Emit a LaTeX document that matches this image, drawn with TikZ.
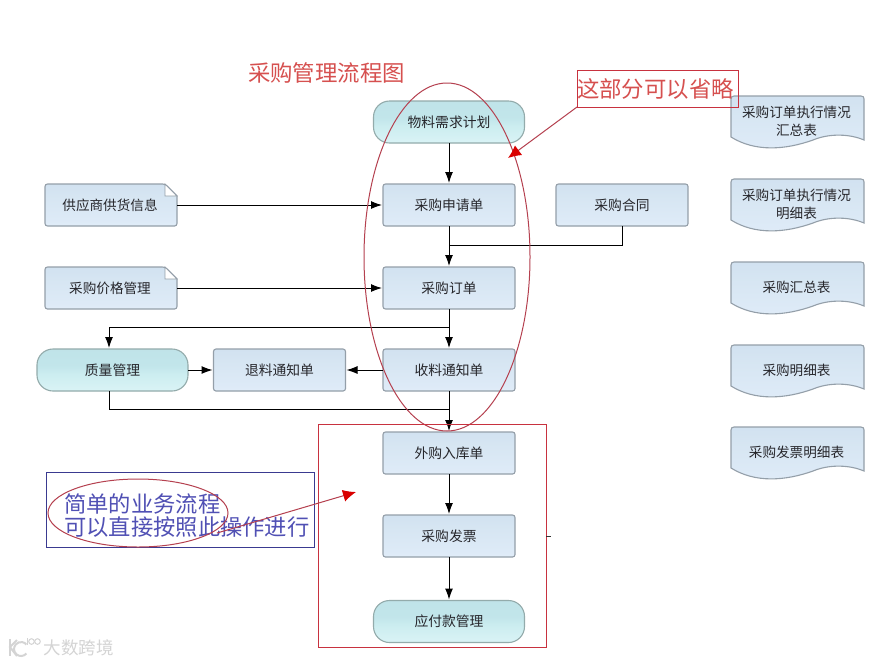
\documentclass[tikz,border=0pt]{standalone}
\usepackage{fontspec}
\setmainfont{Noto Sans CJK SC}
\usetikzlibrary{arrows.meta}
\definecolor{edgegray}{HTML}{949FA9}
\definecolor{tealedge}{HTML}{93ABAB}
\definecolor{inktext}{HTML}{26262B}
\definecolor{redline}{HTML}{C8323F}
\definecolor{redtext}{HTML}{D6504F}
\definecolor{bluetext}{HTML}{5050B4}
\definecolor{blueline}{HTML}{3A3A90}
\definecolor{ovalline}{HTML}{B5404F}
\definecolor{markgray}{HTML}{D4D4D4}
\pgfdeclareverticalshading{boxshade}{100bp}{
  rgb(0bp)=(0.82,0.88,0.94); rgb(8bp)=(0.86,0.92,0.96); rgb(14bp)=(0.93,0.96,0.99);
  rgb(30bp)=(0.87,0.92,0.97); rgb(60bp)=(0.84,0.90,0.95); rgb(100bp)=(0.79,0.86,0.93)}
\pgfdeclareverticalshading{tealshade}{100bp}{
  rgb(0bp)=(0.78,0.91,0.92); rgb(12bp)=(0.89,0.97,0.98);
  rgb(45bp)=(0.80,0.93,0.94); rgb(55bp)=(0.76,0.90,0.92); rgb(100bp)=(0.74,0.88,0.90)}
\tikzset{
  x=1pt,y=-1pt,
  plainbox/.style={rectangle,rounded corners=2.5pt,draw=edgegray,line width=1.1pt,shading=boxshade,
    minimum width=132pt,minimum height=42pt,inner sep=0pt,outer sep=0pt,
    text=inktext,font=\fontsize{13.8pt}{16pt}\selectfont},
  pillbox/.style={plainbox,draw=tealedge,shading=tealshade,rounded corners=16pt,minimum width=151pt},
  labelonly/.style={inner sep=0pt,outer sep=0pt,text=inktext,align=center,
    font=\fontsize{13.6pt}{18pt}\selectfont},
  flow/.style={draw=black,line width=1pt,-{Latex[length=11pt,width=8pt]},shorten >=1pt},
  flowplain/.style={draw=black,line width=1pt},
  redarrow/.style={draw=ovalline,line width=1pt,-{Latex[length=13pt,width=12pt,color=red!85!black]}},
  bigred/.style={inner sep=0pt,text=redtext,font=\fontsize{22.4pt}{26pt}\selectfont},
  bigblue/.style={inner sep=0pt,anchor=west,text=bluetext,font=\fontsize{22.3pt}{26pt}\selectfont},
  markline/.style={draw=markgray,line width=2pt},
}
% note shape with folded corner: #1 name, #2 centre x, #3 centre y, #4 text
\newcommand{\notebox}[4]{
  \begin{scope}[shift={(#2,#3)}]
    \path[draw=edgegray,line width=1.1pt,shading=boxshade,rounded corners=2.5pt]
      (-66,-21) -- (54,-21) [sharp corners] -- (66,-9) [rounded corners=2.5pt] -- (66,21) -- (-66,21) -- cycle;
    \path[fill=white,draw=edgegray,line width=0.8pt] (54,-21) -- (54,-9) -- (66,-9) -- cycle;
  \end{scope}
  \node[labelonly,minimum width=132pt,minimum height=42pt] (#1) at (#2,#3) {\kern-2pt\raisebox{1pt}{#4}};
}
% report shape with wavy bottom: #1 name, #2 top y, #3 text
\newcommand{\reportbox}[3]{
  \begin{scope}[yshift={-#2 pt}]
    \path[draw=edgegray,line width=1.1pt,shading=boxshade]
      (731,41) -- (731,3) .. controls (731,1) and (732,0) .. (734,0) -- (861,0)
      .. controls (863,0) and (864,1) .. (864,3) -- (864,44)
      .. controls (850,38) and (830,37) .. (813,44)
      .. controls (785,54) and (755,56) .. (731,41) -- cycle;
  \end{scope}
  \node[labelonly] (#1) at (796.5,#2+25) {#3};
}
\begin{document}
\begin{tikzpicture}
\useasboundingbox (0,0) rectangle (874,665);
\fill[white] (0,0) rectangle (874,665);

% title
\node[bigred] (title) at (326.5,72.5) {采购管理流程图};

% flow boxes
\node[pillbox] (wl) at (449,122) {物料需求计划};
\node[plainbox] (sq) at (449,205) {采购申请单};
\node[plainbox] (ht) at (622,205) {采购合同};
\node[plainbox] (dd) at (449,288) {采购订单};
\node[plainbox] (sl) at (449,370) {收料通知单};
\node[plainbox] (tl) at (279.5,370) {退料通知单};
\node[pillbox] (zl) at (112.5,370) {质量管理};
\node[plainbox] (rk) at (449,453) {外购入库单};
\node[plainbox] (fp) at (449,536) {采购发票};
\node[pillbox] (yf) at (449,621.5) {应付款管理};

\notebox{gy}{111}{205}{供应商供货信息}
\notebox{jg}{111}{288}{采购价格管理}

% reports
\reportbox{r1}{96}{采购订单执行情况\\汇总表}
\reportbox{r2}{179}{采购订单执行情况\\明细表}
\reportbox{r3}{262}{采购汇总表}
\reportbox{r4}{345}{采购明细表}
\reportbox{r5}{427}{采购发票明细表}

% junction coordinates
\coordinate (j1) at (449,245);
\coordinate (j2) at (449,327);
\coordinate (j3) at (449,409);
\coordinate (q1) at (109,349);
\coordinate (q2) at (109,391);

% connectors
\draw[flow] (wl) -- (sq);
\draw[flow] (sq) -- (dd);
\draw[flow] (dd) -- (sl);
\draw[flow] (sl) -- (rk);
\draw[flow] (rk) -- (fp);
\draw[flow] (fp) -- (yf);
\draw[flow] (gy) -- (sq);
\draw[flow] (jg) -- (dd);
\draw[flow] (zl) -- (tl);
\draw[flow] (sl) -- (tl);
\draw[flowplain] (ht.south) |- (j1);
\draw[flow] (j2) -| (q1);
\draw[flowplain] (q2) |- (j3);

% annotation: red oval
\draw[ovalline,line width=1pt] (447,257) ellipse [x radius=83,y radius=174];
% annotation: omit box
\node[draw=redline,line width=1pt,bigred,minimum width=161pt,minimum height=37pt,outer sep=0pt] (omit) at (657.5,88.5) {\kern-4pt\raisebox{-1pt}{这部分可以省略}};
\coordinate (omittip) at (508,158);
\draw[redarrow] (omit.south west) -- (omittip);

% annotation: red frame
\draw[redline,line width=1pt] (318,424) rectangle (546,647);
\coordinate (tickl) at (546,536);
\coordinate (tickr) at (551,536);
\draw[black!80,line width=0.7pt] (tickl) -- (tickr);

% annotation: blue box
\draw[blueline,line width=1pt] (46,472) rectangle (314,547);
\node[bigblue] (l1) at (64,504) {简单的业务流程};
\node[bigblue] (l2) at (64,527) {可以直接按照此操作进行};
\draw[ovalline,line width=1pt] (138,513) ellipse [x radius=90,y radius=34];
\coordinate (ovaltail) at (217,533);
\coordinate (frametip) at (356,492);
\draw[redarrow] (ovaltail) -- (frametip);

% watermark
\draw[markline] (10,639) -- (10,656);
\draw[markline] (17,640) -- (10,647) -- (17,656);
\draw[markline] (26.4,653.5) arc[start angle=40,end angle=320,radius=7];
\draw[draw=markgray,line width=1pt] (27,638) -- (27,645);
\draw[draw=markgray,line width=1pt] (31.5,641.5) circle (2.8);
\draw[draw=markgray,line width=1pt] (37.5,641.5) circle (2.8);
\node[inner sep=0pt,text=markgray,font=\fontsize{17.5pt}{20pt}\selectfont] (wm) at (78.5,648) {大数跨境};
\end{tikzpicture}
\end{document}
